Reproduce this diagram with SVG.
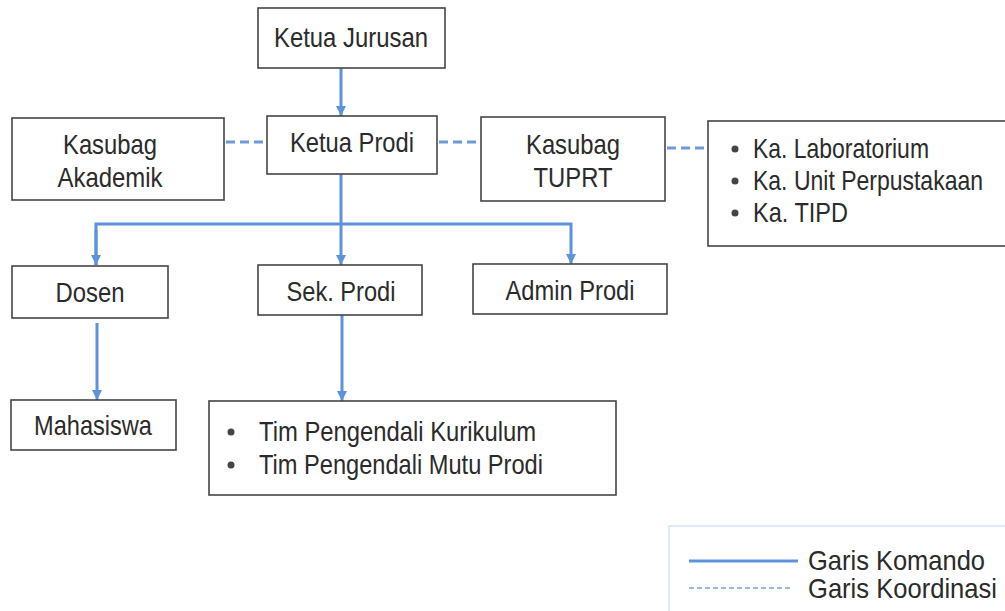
<svg xmlns="http://www.w3.org/2000/svg" width="1005" height="611" viewBox="0 0 1005 611">
<defs>
<style>
.box{fill:#fff;stroke:#454545;stroke-width:1.6}
.t{font-family:"Liberation Sans",Arial,sans-serif;font-size:28px;fill:#2b2b2b}
.c{text-anchor:middle}
.lg{font-size:28px}
.cmd{fill:none;stroke:#5d93dc;stroke-width:3}
.crd{fill:none;stroke:#6c9ad6;stroke-width:3;stroke-dasharray:9 5}
.crdl{fill:none;stroke:#7ea6dc;stroke-width:1.4;stroke-dasharray:5 3}
.dot{fill:#444}
</style>
<marker id="ah" markerUnits="userSpaceOnUse" markerWidth="12" markerHeight="12" refX="10" refY="5" orient="auto">
<path d="M0,0 L10,5 L0,10 z" fill="#5d93dc"/>
</marker>
</defs>
<rect width="1005" height="611" fill="#fff"/>

<g id="connectors">
<line class="cmd" x1="341" y1="68" x2="341" y2="116" marker-end="url(#ah)"/>
<line class="cmd" x1="341" y1="174" x2="341" y2="265" marker-end="url(#ah)"/>
<polyline class="cmd" points="96,265 96,224 571,224 571,264" marker-end="url(#ah)"/>
<line class="cmd" x1="96" y1="230" x2="96" y2="265" marker-end="url(#ah)"/>
<line class="cmd" x1="97" y1="323" x2="97" y2="400" marker-end="url(#ah)"/>
<line class="cmd" x1="342" y1="314" x2="342" y2="401" marker-end="url(#ah)"/>
<line class="crd" x1="226" y1="142" x2="267" y2="142"/>
<line class="crd" x1="439" y1="142" x2="481" y2="142"/>
<line class="crd" x1="667" y1="148" x2="708" y2="148"/>
</g>

<g id="ketua-jurusan">
<rect class="box" x="258" y="8" width="187" height="60"/>
<text class="t c" x="351" y="47" textLength="154" lengthAdjust="spacingAndGlyphs">Ketua Jurusan</text>
</g>
<g id="ketua-prodi">
<rect class="box" x="267" y="116" width="170" height="58"/>
<text class="t c" x="352" y="152" textLength="124" lengthAdjust="spacingAndGlyphs">Ketua Prodi</text>
</g>
<g id="kasubag-akademik">
<rect class="box" x="12" y="118" width="212" height="82"/>
<text class="t c" x="110" y="154" textLength="94" lengthAdjust="spacingAndGlyphs">Kasubag</text>
<text class="t c" x="110" y="187" textLength="105" lengthAdjust="spacingAndGlyphs">Akademik</text>
</g>
<g id="kasubag-tuprt">
<rect class="box" x="481" y="117" width="184" height="84"/>
<text class="t c" x="573" y="154" textLength="94" lengthAdjust="spacingAndGlyphs">Kasubag</text>
<text class="t c" x="573" y="187" textLength="79" lengthAdjust="spacingAndGlyphs">TUPRT</text>
</g>
<g id="unit-list">
<rect class="box" x="708" y="121" width="310" height="125"/>
<circle class="dot" cx="735" cy="149" r="3.5"/>
<circle class="dot" cx="735" cy="181" r="3.5"/>
<circle class="dot" cx="735" cy="213" r="3.5"/>
<text class="t" x="753" y="158" textLength="176" lengthAdjust="spacingAndGlyphs">Ka. Laboratorium</text>
<text class="t" x="753" y="190" textLength="230" lengthAdjust="spacingAndGlyphs">Ka. Unit Perpustakaan</text>
<text class="t" x="753" y="222" textLength="95" lengthAdjust="spacingAndGlyphs">Ka. TIPD</text>
</g>
<g id="dosen">
<rect class="box" x="12" y="266" width="156" height="52"/>
<text class="t c" x="90" y="302" textLength="69" lengthAdjust="spacingAndGlyphs">Dosen</text>
</g>
<g id="sek-prodi">
<rect class="box" x="258" y="265" width="164" height="50"/>
<text class="t c" x="341" y="301" textLength="109" lengthAdjust="spacingAndGlyphs">Sek. Prodi</text>
</g>
<g id="admin-prodi">
<rect class="box" x="473" y="264" width="194" height="50"/>
<text class="t c" x="570" y="300" textLength="129" lengthAdjust="spacingAndGlyphs">Admin Prodi</text>
</g>
<g id="mahasiswa">
<rect class="box" x="11" y="400" width="165" height="50"/>
<text class="t c" x="93" y="435" textLength="118" lengthAdjust="spacingAndGlyphs">Mahasiswa</text>
</g>
<g id="tim">
<rect class="box" x="209" y="401" width="407" height="94"/>
<circle class="dot" cx="231" cy="432" r="3.5"/>
<circle class="dot" cx="231" cy="465" r="3.5"/>
<text class="t" x="259" y="441" textLength="277" lengthAdjust="spacingAndGlyphs">Tim Pengendali Kurikulum</text>
<text class="t" x="259" y="474" textLength="284" lengthAdjust="spacingAndGlyphs">Tim Pengendali Mutu Prodi</text>
</g>

<g id="legend">
<rect x="669" y="526" width="345" height="100" fill="none" stroke="#cfe0f2" stroke-width="1.2"/>
<line class="cmd" x1="689" y1="561" x2="798" y2="561"/>
<line class="crdl" x1="689" y1="588" x2="792" y2="588"/>
<text class="t lg" x="808" y="570" textLength="177" lengthAdjust="spacingAndGlyphs">Garis Komando</text>
<text class="t lg" x="808" y="598" textLength="189" lengthAdjust="spacingAndGlyphs">Garis Koordinasi</text>
</g>
</svg>
